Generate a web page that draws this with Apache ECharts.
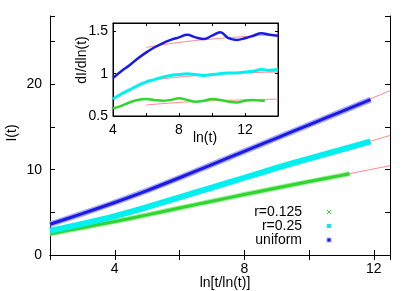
<!DOCTYPE html>
<html><head><meta charset="utf-8">
<script src="https://cdn.jsdelivr.net/npm/echarts@6/dist/echarts.min.js"></script>
<style>html,body{margin:0;padding:0;background:#fff}#c{width:415px;height:291px}</style>
</head><body><div id="c"></div>
<script>
// ---- main plot data: I(t) vs ln[t/ln(t)] ----
var mainX      = [2, 3, 4, 5, 6, 7, 8, 9, 10, 11, 11.9];
var blueMain   = [3.6, 4.85, 6.15, 7.55, 9.05, 10.6, 12.15, 13.7, 15.25, 16.8, 18.2];
var cyanMain   = [2.84, 3.65, 4.55, 5.6, 6.75, 7.9, 9.05, 10.2, 11.3, 12.35, 13.3];
var greenX     = [2, 3, 4, 5, 6, 7, 8, 9, 10, 11, 11.25];
var greenMain  = [2.47, 3.2, 3.93, 4.7, 5.5, 6.3, 7.08, 7.85, 8.6, 9.33, 9.52];
var fitX       = [8, 12.5];
var blueFit    = [12.15, 19.25];
var cyanFit    = [9.05, 14.0];
var greenFit   = [7.08, 10.47];
var mainXTicks = [4, 8, 12];
var mainYTicks = [0, 10, 20];

// ---- inset data: dI/dln(t) vs ln(t) ----
var insetX     = [4, 4.5, 5, 5.5, 6, 6.5, 7, 7.5, 8, 8.5, 9, 9.5, 10, 10.5, 11, 11.5, 12, 12.5, 13, 13.5, 14];
var blueInset  = [0.95, 1.03, 1.10, 1.18, 1.25, 1.31, 1.36, 1.40, 1.43, 1.46, 1.43, 1.41, 1.45, 1.49, 1.42, 1.40, 1.42, 1.45, 1.48, 1.46, 1.45];
var cyanInset  = [0.70, 0.76, 0.81, 0.86, 0.90, 0.93, 0.96, 0.98, 0.99, 1.00, 0.99, 0.98, 0.99, 1.00, 1.01, 1.01, 1.02, 1.03, 1.05, 1.04, 1.05];
var greenInX   = [4, 4.5, 5, 5.5, 6, 6.5, 7, 7.5, 8, 8.5, 9, 9.5, 10, 10.5, 11, 11.5, 12, 12.5, 13, 13.2];
var greenInset = [0.59, 0.62, 0.66, 0.69, 0.70, 0.69, 0.68, 0.69, 0.71, 0.69, 0.67, 0.68, 0.70, 0.69, 0.67, 0.66, 0.68, 0.69, 0.68, 0.68];
var fitInX     = [6, 8, 10, 12, 14];
var blueFitIn  = [1.31, 1.37, 1.41, 1.44, 1.46];
var cyanFitIn  = [0.92, 0.96, 0.99, 1.01, 1.02];
var greenFitIn = [0.63, 0.66, 0.68, 0.69, 0.70];
var insetXTicks = [4, 8, 12];

var legendNames = ['r=0.125', 'r=0.25', 'uniform'];

function pairs(xs, ys){ return xs.map(function(x,i){ return [x, ys[i]]; }); }

var FONT = 'Liberation Sans';
var BLUE = '#1a1ae6', BLUEHALO = '#a6a6ff', CYAN = '#00f0f0', GREEN = '#2ed62e', GREENHALO = '#99ee99', RED = '#ff8c8c';

function axisBase(extra){
  var o = {
    type: 'value',
    axisLine: {show: true, lineStyle: {color: '#000', width: 1}},
    axisTick: {show: true, inside: true, length: 5, lineStyle: {color: '#000'}},
    splitLine: {show: false},
    axisLabel: {show: false}
  };
  for (var k in extra) o[k] = extra[k];
  return o;
}

var chart = echarts.init(document.getElementById('c'), null, {renderer: 'canvas'});
chart.setOption({
  animation: false,
  backgroundColor: '#fff',
  grid: [
    {left: 50, top: 16, width: 340, height: 239},
    {left: 113, top: 23, width: 165, height: 93, show: true, backgroundColor: '#fff', borderColor: '#000', borderWidth: 1, z: 5}
  ],
  xAxis: [
    axisBase({gridIndex: 0, position: 'bottom', min: 2, max: 12.5, interval: 2,
      axisLabel: {show: true, color: '#000', fontFamily: FONT, fontSize: 14, margin: 7,
        formatter: function(v){ return mainXTicks.indexOf(v) >= 0 ? String(v) : ''; }}}),
    axisBase({gridIndex: 0, position: 'top', min: 2, max: 12.5, interval: 2}),
    axisBase({gridIndex: 1, position: 'bottom', min: 4, max: 14, interval: 2, z: 6,
      axisTick: {show: true, inside: true, length: 3, lineStyle: {color: '#000'}},
      axisLabel: {show: true, color: '#000', fontFamily: FONT, fontSize: 14, margin: 7,
        formatter: function(v){ return insetXTicks.indexOf(v) >= 0 ? String(v) : ''; }}}),
    axisBase({gridIndex: 1, position: 'top', min: 4, max: 14, interval: 2, z: 6,
      axisTick: {show: true, inside: true, length: 3, lineStyle: {color: '#000'}}})
  ],
  yAxis: [
    axisBase({gridIndex: 0, position: 'left', min: 0, max: 28, interval: 5,
      axisLabel: {show: true, color: '#000', fontFamily: FONT, fontSize: 14, margin: 8,
        formatter: function(v){ return mainYTicks.indexOf(v) >= 0 ? String(v) : ''; }}}),
    axisBase({gridIndex: 0, position: 'right', min: 0, max: 28, interval: 5}),
    axisBase({gridIndex: 1, position: 'left', min: 0.5, max: 1.6, interval: 0.5, z: 6,
      axisTick: {show: true, inside: true, length: 3, lineStyle: {color: '#000'}},
      axisLabel: {show: true, color: '#000', fontFamily: FONT, fontSize: 14, margin: 5,
        formatter: function(v){ return String(Math.round(v*10)/10); }}}),
    axisBase({gridIndex: 1, position: 'right', min: 0.5, max: 1.6, interval: 0.5, z: 6,
      axisTick: {show: true, inside: true, length: 3, lineStyle: {color: '#000'}}})
  ],
  series: [
    // main fits
    {type: 'line', xAxisIndex: 0, yAxisIndex: 0, data: pairs(fitX, blueFit), showSymbol: false, z: 1, lineStyle: {color: RED, width: 1}},
    {type: 'line', xAxisIndex: 0, yAxisIndex: 0, data: pairs(fitX, cyanFit), showSymbol: false, z: 1, lineStyle: {color: RED, width: 1}},
    {type: 'line', xAxisIndex: 0, yAxisIndex: 0, data: pairs(fitX, greenFit), showSymbol: false, z: 1, lineStyle: {color: RED, width: 1}},
    // main data
    {name: legendNames[0], type: 'line', xAxisIndex: 0, yAxisIndex: 0, data: pairs(greenX, greenMain), smooth: 0.3, showSymbol: false, z: 2, lineStyle: {color: GREENHALO, width: 5}},
    {type: 'line', xAxisIndex: 0, yAxisIndex: 0, data: pairs(greenX, greenMain), smooth: 0.3, showSymbol: false, z: 2, lineStyle: {color: GREEN, width: 3}},
    {name: legendNames[1], type: 'line', xAxisIndex: 0, yAxisIndex: 0, data: pairs(mainX, cyanMain), smooth: 0.3, showSymbol: false, z: 3, lineStyle: {color: CYAN, width: 6}},
    {name: legendNames[2], type: 'line', xAxisIndex: 0, yAxisIndex: 0, data: pairs(mainX, blueMain), smooth: 0.3, showSymbol: false, z: 4, lineStyle: {color: BLUEHALO, width: 6}},
    {type: 'line', xAxisIndex: 0, yAxisIndex: 0, data: pairs(mainX, blueMain), smooth: 0.3, showSymbol: false, z: 4, lineStyle: {color: BLUE, width: 3}},
    // inset fits
    {type: 'line', xAxisIndex: 2, yAxisIndex: 2, data: pairs(fitInX, blueFitIn), smooth: true, showSymbol: false, z: 7, lineStyle: {color: RED, width: 1}},
    {type: 'line', xAxisIndex: 2, yAxisIndex: 2, data: pairs(fitInX, cyanFitIn), smooth: true, showSymbol: false, z: 7, lineStyle: {color: RED, width: 1}},
    {type: 'line', xAxisIndex: 2, yAxisIndex: 2, data: pairs(fitInX, greenFitIn), smooth: true, showSymbol: false, z: 7, lineStyle: {color: RED, width: 1}},
    // inset data
    {type: 'line', xAxisIndex: 2, yAxisIndex: 2, data: pairs(greenInX, greenInset), smooth: 0.4, showSymbol: false, z: 8, lineStyle: {color: GREEN, width: 2.5}},
    {type: 'line', xAxisIndex: 2, yAxisIndex: 2, data: pairs(insetX, cyanInset), smooth: 0.4, showSymbol: false, z: 8, lineStyle: {color: CYAN, width: 3}},
    {type: 'line', xAxisIndex: 2, yAxisIndex: 2, data: pairs(insetX, blueInset), smooth: 0.4, showSymbol: false, z: 8, lineStyle: {color: BLUE, width: 2.5}}
  ],
  graphic: [
    {type: 'text', x: 12, y: 133, rotation: Math.PI/2, z: 20,
      style: {text: 'I(t)', fontFamily: FONT, fontSize: 14, fill: '#000', textAlign: 'center', textVerticalAlign: 'middle'}},
    {type: 'text', x: 225, y: 283, z: 20,
      style: {text: 'ln[t/ln(t)]', fontFamily: FONT, fontSize: 14, fill: '#000', textAlign: 'center', textVerticalAlign: 'middle'}},
    {type: 'text', x: 82, y: 60, rotation: Math.PI/2, z: 20,
      style: {text: 'dI/dln(t)', fontFamily: FONT, fontSize: 14, fill: '#000', textAlign: 'center', textVerticalAlign: 'middle'}},
    {type: 'text', x: 205, y: 138, z: 20,
      style: {text: 'ln(t)', fontFamily: FONT, fontSize: 14, fill: '#000', textAlign: 'center', textVerticalAlign: 'middle'}},
    {type: 'text', x: 302, y: 212, z: 20,
      style: {text: legendNames[0], fontFamily: FONT, fontSize: 14, fill: '#000', textAlign: 'right', textVerticalAlign: 'middle'}},
    {type: 'text', x: 302, y: 226, z: 20,
      style: {text: legendNames[1], fontFamily: FONT, fontSize: 14, fill: '#000', textAlign: 'right', textVerticalAlign: 'middle'}},
    {type: 'text', x: 302, y: 240, z: 20,
      style: {text: legendNames[2], fontFamily: FONT, fontSize: 14, fill: '#000', textAlign: 'right', textVerticalAlign: 'middle'}},
    {type: 'line', z: 20, shape: {x1: 327, y1: 210, x2: 331, y2: 214}, style: {stroke: GREEN, lineWidth: 1}},
    {type: 'line', z: 20, shape: {x1: 327, y1: 214, x2: 331, y2: 210}, style: {stroke: GREEN, lineWidth: 1}},
    {type: 'rect', z: 20, shape: {x: 327, y: 224, width: 4, height: 4}, style: {fill: CYAN}},
    {type: 'rect', z: 20, shape: {x: 326.5, y: 237.5, width: 5, height: 5}, style: {fill: BLUEHALO}},
    {type: 'rect', z: 21, shape: {x: 327.5, y: 238.5, width: 3, height: 3}, style: {fill: BLUE}}
  ]
});
</script>
</body></html>
